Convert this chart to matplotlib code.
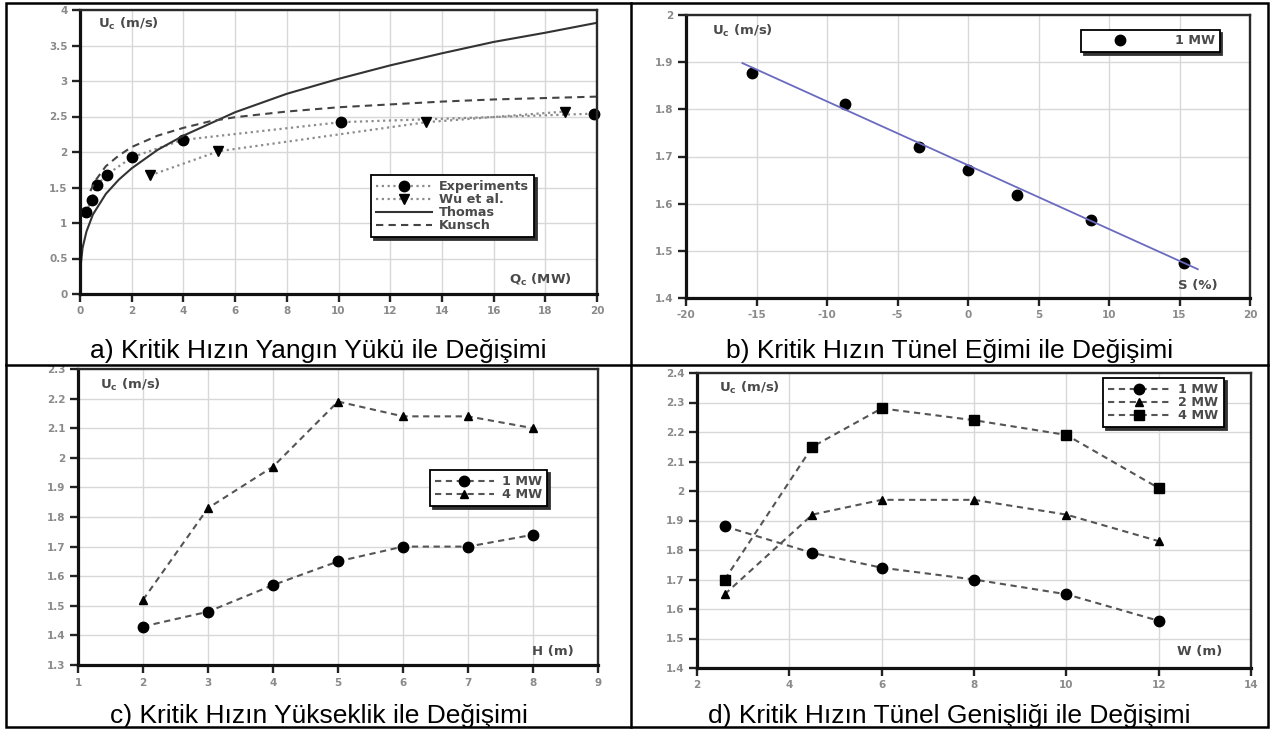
import matplotlib
matplotlib.use("Agg")
import matplotlib.pyplot as plt
from matplotlib.lines import Line2D
from matplotlib.patches import Rectangle

plt.rcParams["font.family"] = ["DejaVu Sans"]
plt.rcParams["mathtext.default"] = "regular"

# ---------------- data ----------------
# a) critical velocity vs fire load
exp_q = [0.23, 0.45, 0.65, 1.03, 2.03, 3.97, 10.09, 19.88]
exp_u = [1.15, 1.33, 1.53, 1.68, 1.93, 2.17, 2.42, 2.54]
wu_q = [2.71, 5.35, 13.4, 18.77]
wu_u = [1.67, 2.01, 2.42, 2.57]
thomas_q = [0, 0.02, 0.1, 0.25, 0.5, 1, 1.5, 2, 3, 4, 6, 8, 10, 12, 14, 16, 18, 20]
thomas_u = [0, 0.38, 0.65, 0.88, 1.12, 1.41, 1.61, 1.77, 2.03, 2.23, 2.56,
            2.82, 3.03, 3.22, 3.39, 3.55, 3.68, 3.82]
kunsch_q = [0.4, 0.6, 1, 1.5, 2, 3, 4, 5, 6, 8, 10, 12, 14, 16, 18, 20]
kunsch_u = [1.45, 1.6, 1.8, 1.95, 2.07, 2.23, 2.34, 2.43, 2.49, 2.57, 2.63,
            2.67, 2.71, 2.74, 2.76, 2.78]

# b) critical velocity vs tunnel slope (1 MW)
slope_s = [-15.3, -8.7, -3.5, 0.0, 3.5, 8.7, 15.3]
slope_u = [1.878, 1.812, 1.721, 1.672, 1.619, 1.565, 1.475]
fit_s = [-16.0, 16.3]
fit_u = [1.898, 1.461]

# c) critical velocity vs tunnel height
height_h = [2, 3, 4, 5, 6, 7, 8]
height_1mw = [1.43, 1.48, 1.57, 1.65, 1.70, 1.70, 1.74]
height_4mw = [1.52, 1.83, 1.97, 2.19, 2.14, 2.14, 2.10]

# d) critical velocity vs tunnel width
width_w = [2.6, 4.5, 6, 8, 10, 12]
width_1mw = [1.88, 1.79, 1.74, 1.70, 1.65, 1.56]
width_2mw = [1.65, 1.92, 1.97, 1.97, 1.92, 1.83]
width_4mw = [1.70, 2.15, 2.28, 2.24, 2.19, 2.01]

# tick values
a_xticks = [0, 2, 4, 6, 8, 10, 12, 14, 16, 18, 20]
a_yticks = [0, 0.5, 1, 1.5, 2, 2.5, 3, 3.5, 4]
b_xticks = [-20, -15, -10, -5, 0, 5, 10, 15, 20]
b_yticks = [1.4, 1.5, 1.6, 1.7, 1.8, 1.9, 2.0]
c_xticks = [1, 2, 3, 4, 5, 6, 7, 8, 9]
c_yticks = [1.3, 1.4, 1.5, 1.6, 1.7, 1.8, 1.9, 2.0, 2.1, 2.2, 2.3]
d_xticks = [2, 4, 6, 8, 10, 12, 14]
d_yticks = [1.4, 1.5, 1.6, 1.7, 1.8, 1.9, 2.0, 2.1, 2.2, 2.3, 2.4]

captions = [
    "a) Kritik Hızın Yangın Yükü ile Değişimi",
    "b) Kritik Hızın Tünel Eğimi ile Değişimi",
    "c) Kritik Hızın Yükseklik ile Değişimi",
    "d) Kritik Hızın Tünel Genişliği ile Değişimi",
]
u_label = "U$_c$ (m/s)"

# ---------------- figure ----------------
W, H = 1274, 731
fig = plt.figure(figsize=(W / 100, H / 100), dpi=100)


def fx(px):
    return px / W


def fy(py):
    return 1 - py / H


def rect(l, r, t, b):
    return [fx(l), fy(b), (r - l) / W, (b - t) / H]


TICK_COLOR = "#8a8a8a"
TEXT_COLOR = "#4a4a4a"


def style_axes(ax, xt, yt):
    ax.set_xticks(xt, [f"{v:g}" for v in xt], fontweight="bold")
    ax.set_yticks(yt, [f"{v:g}" for v in yt], fontweight="bold")
    ax.set_xlim(xt[0], xt[-1])
    ax.set_ylim(yt[0], yt[-1])
    ax.grid(True, color="#d8d8d8", lw=1.0)
    ax.set_axisbelow(True)
    for s in ("left", "bottom"):
        ax.spines[s].set_linewidth(2.3)
        ax.spines[s].set_color("#111111")
    for s in ("top", "right"):
        ax.spines[s].set_linewidth(1.7)
        ax.spines[s].set_color("#2a2a2a")
    ax.tick_params(direction="out", length=6, width=1.7, color="#222222",
                   labelsize=7.5, labelcolor=TICK_COLOR, pad=3)


def legend(ax, x0, y0, **kw):
    opts = dict(loc="upper left", bbox_to_anchor=(fx(x0), fy(y0)),
                bbox_transform=fig.transFigure, borderaxespad=0,
                fancybox=False, edgecolor="black", framealpha=1,
                shadow={"color": "0.2", "alpha": 1},
                prop={"weight": "bold", "size": 9.2}, labelcolor=TEXT_COLOR)
    opts.update(kw)
    leg = ax.legend(**opts)
    leg.get_frame().set_linewidth(1.3)
    return leg


def label(x, y, s):
    fig.text(fx(x), fy(y), s, ha="center", va="center", fontsize=9.5,
             fontweight="bold", color=TEXT_COLOR)


# a)
ax = fig.add_axes(rect(80, 597, 10, 294))
style_axes(ax, a_xticks, a_yticks)
ax.plot(exp_q, exp_u, ls=(0, (1, 1.6)), color="#8c8c8c", lw=1.6,
        marker="o", ms=7.5, mfc="black", mec="black", clip_on=False,
        label="Experiments")
ax.plot(wu_q, wu_u, ls=(0, (1, 1.6)), color="#8c8c8c", lw=1.6,
        marker="v", ms=6.5, mfc="black", mec="black", clip_on=False,
        label="Wu et al.")
ax.plot(thomas_q, thomas_u, ls="-", color="#333333", lw=1.5, label="Thomas")
ax.plot(kunsch_q, kunsch_u, ls=(0, (3.5, 2.5)), color="#444444", lw=1.5,
        label="Kunsch")
legend(ax, 371, 175, handlelength=4.4, handletextpad=0.5, labelspacing=0.0,
       borderpad=0.4)
label(128, 24, u_label)
label(540, 280, "Q$_c$ (MW)")

# b)
ax = fig.add_axes(rect(686, 1250, 15, 298))
style_axes(ax, b_xticks, b_yticks)
ax.plot(slope_s, slope_u, ls="none", marker="o", ms=7.5, mfc="black",
        mec="black", label="1 MW", zorder=3)
ax.plot(fit_s, fit_u, color="#6a6ac0", lw=1.3, zorder=4)
legend(ax, 1081, 30, handlelength=5.4, handletextpad=1.6, borderpad=0.35,
       numpoints=1)
label(742, 31, u_label)
label(1198, 285, "S (%)")

# c)
ax = fig.add_axes(rect(78, 598, 369, 665))
style_axes(ax, c_xticks, c_yticks)
dash = (0, (3, 2.2))
ax.plot(height_h, height_1mw, ls=dash, color="#555555", lw=1.5,
        marker="o", ms=7.5, mfc="black", mec="black", label="1 MW")
ax.plot(height_h, height_4mw, ls=dash, color="#555555", lw=1.5,
        marker="^", ms=6, mfc="black", mec="black", label="4 MW")
legend(ax, 430, 470, handlelength=4.6, handletextpad=0.6, labelspacing=0.0,
       borderpad=0.4)
label(130, 385, u_label)
label(553, 651, "H (m)")

# d)
ax = fig.add_axes(rect(697, 1251, 373, 668))
style_axes(ax, d_xticks, d_yticks)
ax.plot(width_w, width_1mw, ls=dash, color="#555555", lw=1.5,
        marker="o", ms=7.5, mfc="black", mec="black", label="1 MW")
ax.plot(width_w, width_2mw, ls=dash, color="#555555", lw=1.5,
        marker="^", ms=6, mfc="black", mec="black", label="2 MW")
ax.plot(width_w, width_4mw, ls=dash, color="#555555", lw=1.5,
        marker="s", ms=7.5, mfc="black", mec="black", label="4 MW")
legend(ax, 1103, 378, handlelength=4.9, handletextpad=0.6, labelspacing=0.0,
       borderpad=0.4)
label(749, 388, u_label)
label(1200, 652, "W (m)")

# captions
cap_pos = [(318.5, 358), (949.5, 358), (318.5, 723), (949.5, 723)]
for (cx, cy), txt in zip(cap_pos, captions):
    fig.text(fx(cx), fy(cy), txt, ha="center", va="baseline", fontsize=19,
             family=["Liberation Sans", "DejaVu Sans"], color="black")

# table borders
fig.add_artist(Rectangle((fx(6), fy(727)), (1268 - 6) / W, (727 - 3) / H,
                         transform=fig.transFigure, fill=False,
                         edgecolor="black", lw=1.8))
fig.add_artist(Line2D([fx(631), fx(631)], [fy(3), fy(727)],
                      transform=fig.transFigure, color="black", lw=1.8))
fig.add_artist(Line2D([fx(6), fx(1268)], [fy(365), fy(365)],
                      transform=fig.transFigure, color="black", lw=1.8))

fig.savefig("out.png", dpi=100)
